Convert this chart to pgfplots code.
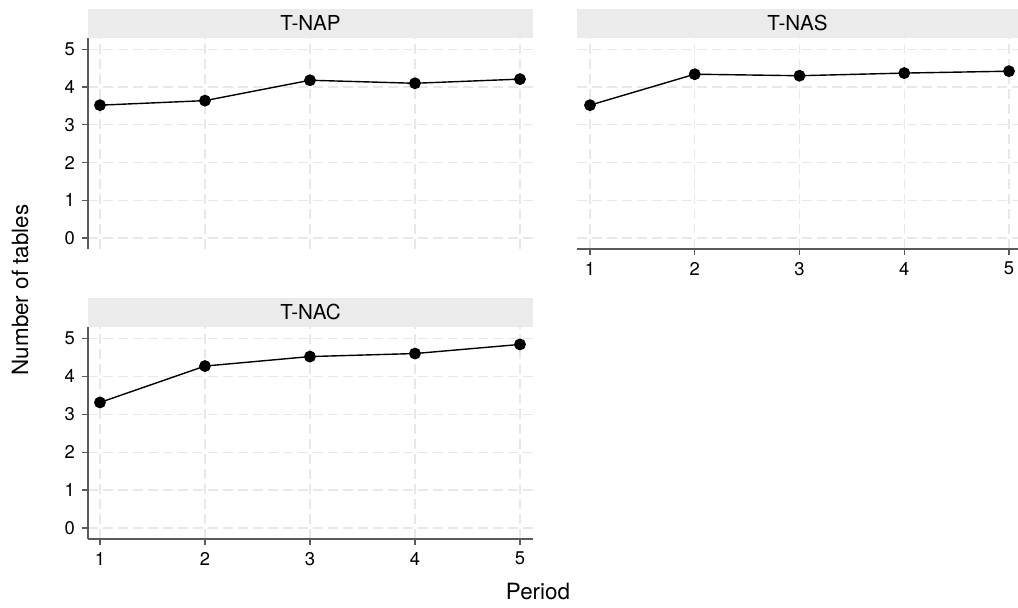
\documentclass[border=0pt]{standalone}
\usepackage{fontspec}
\setmainfont{TeX Gyre Heros}
\usepackage{pgfplots}
\pgfplotsset{compat=1.18}
\definecolor{StripGray}{HTML}{EBEBEB}
\definecolor{AxisGray}{HTML}{5A5A5A}
\definecolor{GridGray}{HTML}{E8E8E8}

\pgfplotsset{
  panel/.style={
    scale only axis, width=222.5pt, height=105.5pt,
    xmin=0.886, xmax=5.124, ymin=-0.29, ymax=5.30,
    xtick={1,...,5}, ytick={0,...,5},
    axis x line*=bottom, axis y line*=left,
    axis line style={AxisGray, line width=0.75pt},
    tick align=outside, major tick length=3pt,
    tick style={AxisGray, line width=0.6pt},
    grid=major, grid style={GridGray, dash pattern=on 5pt off 2.5pt, line width=0.6pt},
    ticklabel style={font=\fontsize{9.2}{10}\selectfont},
    /pgf/number format/assume math mode=true,
    every axis title shift=0pt,
    title style={at={(0.5,1)}, anchor=south, fill=StripGray, inner sep=0pt,
      minimum width=222.5pt, minimum height=14.5pt, font=\fontsize{10.3}{12}\selectfont},
    clip=false,
  },
  series/.style={black, line width=0.7pt, mark=*, mark size=2.6pt},
}

\begin{document}
\begin{tikzpicture}
\useasboundingbox (0,0) rectangle (509pt,304pt);

% T-NAP: no x axis line or labels
\begin{axis}[panel, at={(44pt,179.5pt)}, anchor=south west,
  title={T-NAP},
  x axis line style={draw=none}, xticklabels={}, major x tick style={draw=none}]
\addplot[series] coordinates {(1,3.52) (2,3.64) (3,4.18) (4,4.10) (5,4.21)};
\end{axis}

% T-NAS: no y axis line or labels
\begin{axis}[panel, at={(288.5pt,179.5pt)}, anchor=south west,
  width=220.5pt, xmin=0.876, xmax=5.086,
  title={T-NAS}, title style={minimum width=220.5pt},
  y axis line style={draw=none}, yticklabels={}, major y tick style={draw=none}]
\addplot[series] coordinates {(1,3.52) (2,4.34) (3,4.30) (4,4.37) (5,4.42)};
\end{axis}

% T-NAC
\begin{axis}[panel, at={(44pt,34.5pt)}, anchor=south west, height=106pt,
  title={T-NAC}]
\addplot[series] coordinates {(1,3.31) (2,4.27) (3,4.52) (4,4.60) (5,4.84)};
\end{axis}

\node[rotate=90, font=\fontsize{11.2}{12}\selectfont] at (10pt,159pt) {Number of tables};
\node[font=\fontsize{11.2}{12}\selectfont] at (269pt,8pt) {Period};
\end{tikzpicture}
\end{document}
